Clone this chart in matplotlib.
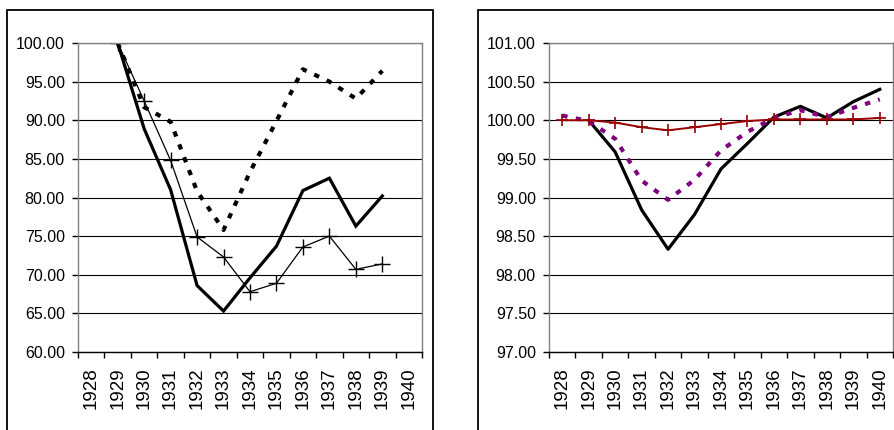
import matplotlib
matplotlib.use("Agg")
import matplotlib.pyplot as plt
from matplotlib.patches import Rectangle
import numpy as np

plt.rcParams['font.family'] = ['Liberation Sans', 'DejaVu Sans']

years = [str(y) for y in range(1928, 1941)]

# Left panel (starts 1929, ends 1939)
left_years = list(range(1929, 1940))
left_solid = [100.0, 88.9, 81.0, 68.6, 65.3, 69.6, 73.7, 80.9, 82.5, 76.3, 80.2]
left_plus = [100.0, 92.5, 84.8, 74.9, 72.3, 67.8, 68.9, 73.6, 75.0, 70.7, 71.4]
left_dotted = [100.0, 91.7, 89.8, 80.8, 75.8, 83.3, 89.9, 96.6, 95.0, 92.8, 96.4]

# Right panel
right_solid_years = list(range(1929, 1941))
right_solid = [100.0, 99.59, 98.84, 98.33, 98.78, 99.37, 99.70, 100.04, 100.18,
               100.03, 100.24, 100.40]
right_years = list(range(1928, 1941))
right_dotted = [100.06, 99.99, 99.76, 99.22, 98.97, 99.23, 99.61, 99.85, 100.03,
                100.13, 100.04, 100.16, 100.27]
right_plus = [100.0, 100.0, 99.97, 99.91, 99.87, 99.91, 99.95, 99.99, 100.01,
              100.01, 100.01, 100.01, 100.03]

W, H = 894, 430
fig = plt.figure(figsize=(W / 100, H / 100), dpi=100)

# outer chart frames
fig.patches.append(Rectangle((7 / W, -0.05), (433 - 7) / W, 1 - 10 / H + 0.05,
                             transform=fig.transFigure, fill=False,
                             edgecolor='black', linewidth=1.3))
fig.patches.append(Rectangle((478 / W, -0.05), (900 - 478) / W, 1 - 10 / H + 0.05,
                             transform=fig.transFigure, fill=False,
                             edgecolor='black', linewidth=1.3))

ax1 = fig.add_axes([78 / W, 1 - 352 / H, (422 - 78) / W, (352 - 43) / H])
ax2 = fig.add_axes([549 / W, 1 - 352 / H, (893 - 549) / W, (352 - 43) / H])


def idx(yrs):
    return [y - 1928 for y in yrs]


def style(ax, ylo, yhi, step):
    ax.set_xlim(-0.5, 12.5)
    ax.set_ylim(ylo, yhi)
    ticks = np.arange(ylo, yhi + step / 2, step)
    ax.set_yticks(ticks)
    ax.set_yticklabels([f"{t:.2f}" for t in ticks], fontsize=11.5)
    ax.set_xticks(np.arange(13))
    ax.set_xticklabels(years, rotation=90, fontsize=13.5)
    ax.set_xticks(np.arange(-0.5, 13, 1), minor=True)
    ax.tick_params(axis='x', which='major', length=0, pad=11)
    ax.tick_params(axis='x', which='minor', length=4.5, width=1, color='black')
    ax.tick_params(axis='y', length=4.5, width=1, pad=5)
    ax.grid(axis='y', color='black', linewidth=0.8)
    ax.set_axisbelow(True)
    for s in ['top', 'right', 'left']:
        ax.spines[s].set_color('#808080')
        ax.spines[s].set_linewidth(1.0)
    ax.spines['bottom'].set_color('black')
    ax.spines['bottom'].set_linewidth(1.0)


style(ax1, 60, 100, 5)
style(ax2, 97, 101, 0.5)

ax1.plot(idx(left_years), left_solid, color='black', linewidth=2.3,
         solid_joinstyle='miter')
ax1.plot(idx(left_years), left_plus, color='black', linewidth=0.9,
         marker='+', markersize=11, markeredgewidth=1.0)
ax1.plot(idx(left_years), left_dotted, color='black', linewidth=3,
         dashes=(1.3, 2.0))

ax2.plot(idx(right_solid_years), right_solid, color='black', linewidth=2.3)
ax2.plot(idx(right_years), right_dotted, color='#800080', linewidth=3,
         dashes=(1.3, 2.0))
ax2.plot(idx(right_years), right_plus, color='#990000', linewidth=1.4,
         marker='+', markersize=9, markeredgewidth=1.2)

fig.savefig('out.png', dpi=100)
